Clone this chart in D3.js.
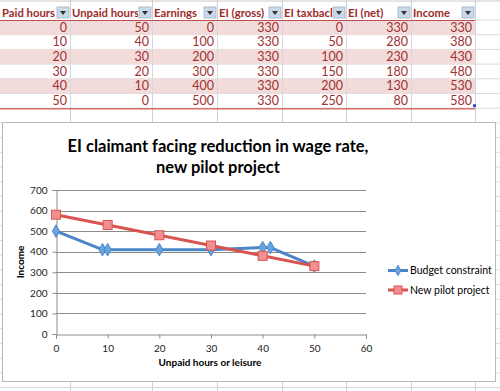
<!DOCTYPE html>
<html><head><meta charset="utf-8">
<script src="https://cdn.jsdelivr.net/npm/d3@7"></script>
<style>
html,body{margin:0;padding:0;background:#fff;}
svg{display:block;}
</style></head>
<body>
<svg id="c" width="500" height="391"></svg>
<script>
// ---- table data ----
const headers = ["Paid hours","Unpaid hours","Earnings","EI (gross)","EI taxback","EI (net)","Income"];
const paidHours = [0,10,20,30,40,50];
const unpaidHours = [50,40,30,20,10,0];
const earnings = [0,100,200,300,400,500];
const eiGross = [330,330,330,330,330,330];
const eiTaxback = [0,50,100,150,200,250];
const eiNet = [330,280,230,180,130,80];
const income = [330,380,430,480,530,580];

// ---- chart data ----
const chartTitle = ["EI claimant facing reduction in wage rate,","new pilot project"];
const budgetX = [0,9,10,20,30,40,41.5,50];
const budgetY = [500,410,410,410,410,420,420,330];
const pilotX = unpaidHours.slice().reverse();
const pilotY = income.slice().reverse();
const seriesNames = ["Budget constraint","New pilot project"];
const xTicks = [0,10,20,30,40,50,60];
const yTicks = [0,100,200,300,400,500,600,700];

const svg = d3.select("#c");
const font = "Lato, 'Open Sans', sans-serif";

// ---- spreadsheet grid ----
const colEdges = [0,70,152,217,282,346,411,475];
const rowTop = 5, headerH = 15, rowH = 14.7;
const grid = svg.append("g");
for (let i=0;i<30;i++){
  const y = rowTop + headerH + i*rowH;
  if (y>391) break;
  grid.append("line").attr("x1",0).attr("x2",500).attr("y1",y).attr("y2",y).attr("stroke","#dadada").attr("stroke-width",1);
}
colEdges.slice(1).forEach(x=>{
  grid.append("line").attr("x1",x+0.5).attr("x2",x+0.5).attr("y1",0).attr("y2",391).attr("stroke","#d0d0d0");
});
grid.append("line").attr("x1",0).attr("x2",500).attr("y1",1).attr("y2",1).attr("stroke","#c8c8c8");

// data rows
const cols = [paidHours,unpaidHours,earnings,eiGross,eiTaxback,eiNet,income];
const tbl = svg.append("g");
d3.range(paidHours.length).forEach(r=>{
  const y = rowTop+headerH+r*rowH;
  if (r%2===0) tbl.append("rect").attr("x",0).attr("y",y).attr("width",475).attr("height",rowH).attr("fill","#f2dcdb");
  cols.forEach((c,ci)=>{
    tbl.append("text").attr("x",colEdges[ci+1]-3).attr("y",y+11.5).attr("text-anchor","end")
      .attr("font-family",font).attr("font-size",12.5).attr("fill","#a03030").text(c[r]);
  });
});
colEdges.slice(1).forEach(x=>{
  tbl.append("line").attr("x1",x+0.5).attr("x2",x+0.5).attr("y1",rowTop).attr("y2",rowTop+headerH+6*rowH).attr("stroke","#d8d8d8");
});
// header
const hdr = svg.append("g");
hdr.append("rect").attr("x",0).attr("y",rowTop-3).attr("width",475).attr("height",headerH+3).attr("fill","#fff");
headers.forEach((h,i)=>{
  const x0 = colEdges[i], x1 = colEdges[i+1];
  const cp = svg.append("clipPath").attr("id","hc"+i);
  cp.append("rect").attr("x",x0).attr("y",0).attr("width",x1-x0-14).attr("height",30);
  hdr.append("text").attr("x",x0+2).attr("y",rowTop+12).attr("clip-path","url(#hc"+i+")")
    .attr("font-family",font).attr("font-weight","bold").attr("font-size",11.3).attr("fill","#9c2b2b").text(h);
  const bx = x1-13, by = rowTop+2;
  hdr.append("rect").attr("x",bx).attr("y",by).attr("width",12).attr("height",11)
    .attr("fill","#c9d9ea").attr("stroke","#9fb3c8").attr("stroke-width",0.8);
  hdr.append("path").attr("d",`M${bx+3},${by+4}L${bx+9},${by+4}L${bx+6},${by+8}Z`).attr("fill","#333");
  hdr.append("line").attr("x1",x1+0.5).attr("x2",x1+0.5).attr("y1",rowTop-3).attr("y2",rowTop+headerH).attr("stroke","#d0d0d0");
});
tbl.append("line").attr("x1",0).attr("x2",475).attr("y1",rowTop+headerH+0.5).attr("y2",rowTop+headerH+0.5).attr("stroke","#c0504d").attr("stroke-width",1);
tbl.append("line").attr("x1",0).attr("x2",475).attr("y1",rowTop+headerH+6*rowH+0.5).attr("y2",rowTop+headerH+6*rowH+0.5).attr("stroke","#d46a6a").attr("stroke-width",1.5);
tbl.append("rect").attr("x",473).attr("y",rowTop+headerH+6*rowH-4).attr("width",3).attr("height",3).attr("fill","#3050c0");

// ---- chart box ----
const chart = svg.append("g");
chart.append("rect").attr("x",2.5).attr("y",122.5).attr("width",493).attr("height",259)
  .attr("fill","#fff").attr("stroke","#b8b8b8").attr("stroke-width",1);

const x = d3.scaleLinear().domain([0,60]).range([56,366]);
const y = d3.scaleLinear().domain([0,700]).range([334,190]);

chart.append("g").selectAll("line").data(yTicks.slice(1)).join("line")
  .attr("x1",x(0)).attr("x2",x(60)).attr("y1",d=>Math.round(y(d))+0.5).attr("y2",d=>Math.round(y(d))+0.5)
  .attr("stroke","#8c8c8c").attr("stroke-width",1);

const yAxis = chart.append("g").attr("transform",`translate(${x(0)+0.5},0)`)
  .call(d3.axisLeft(y).tickValues(yTicks).tickSize(4).tickPadding(5));
const xAxis = chart.append("g").attr("transform",`translate(0,${Math.round(y(0))+0.5})`)
  .call(d3.axisBottom(x).tickValues(xTicks).tickSize(4).tickPadding(6));
[yAxis,xAxis].forEach(a=>{
  a.select(".domain").attr("stroke","#8c8c8c");
  a.selectAll(".tick line").attr("stroke","#8c8c8c");
  a.selectAll(".tick text").attr("font-family",font).attr("font-size",10).attr("fill","#222");
});

chart.append("text").attr("x",218).attr("text-anchor","middle").attr("font-family",font)
  .attr("font-weight","bold").attr("font-size",16.5).attr("fill","#000")
  .selectAll("tspan").data(chartTitle).join("tspan").attr("x",218).attr("y",(d,i)=>152+i*21).text(d=>d);
chart.append("text").attr("x",210).attr("y",366).attr("text-anchor","middle").attr("font-family",font)
  .attr("font-weight","bold").attr("font-size",10).attr("fill","#000").text("Unpaid hours or leisure");
chart.append("text").attr("transform","translate(24,262) rotate(-90)").attr("text-anchor","middle").attr("font-family",font)
  .attr("font-weight","bold").attr("font-size",10).attr("fill","#000").text("Income");

const blue = "#4a86c8", blueFill = "#6aa4e0";
const red = "#d9534f", redFill = "#f09090";
const line = d3.line().x(d=>x(d[0])).y(d=>y(d[1]));
const bData = budgetX.map((v,i)=>[v,budgetY[i]]);
const pData = pilotX.map((v,i)=>[v,pilotY[i]]);
const diamond = d3.symbol().type(d3.symbolDiamond).size(45);

chart.append("path").datum(bData).attr("d",line).attr("fill","none").attr("stroke",blue).attr("stroke-width",3).attr("stroke-linejoin","round");
chart.append("g").selectAll("path").data(bData).join("path").attr("d",diamond)
  .attr("transform",d=>`translate(${x(d[0])},${y(d[1])})`).attr("fill",blueFill).attr("stroke",blue).attr("stroke-width",1);

chart.append("path").datum(pData).attr("d",line).attr("fill","none").attr("stroke",red).attr("stroke-width",3).attr("stroke-linejoin","round");
chart.append("g").selectAll("rect").data(pData).join("rect")
  .attr("x",d=>x(d[0])-4.5).attr("y",d=>y(d[1])-4.5).attr("width",9).attr("height",9)
  .attr("fill",redFill).attr("stroke",red).attr("stroke-width",1);

const leg = chart.append("g");
seriesNames.forEach((n,i)=>{
  const ly = 270.5 + i*19.5;
  const c = i===0?blue:red;
  leg.append("line").attr("x1",388).attr("x2",408).attr("y1",ly).attr("y2",ly).attr("stroke",c).attr("stroke-width",3);
  if (i===0) leg.append("path").attr("d",d3.symbol().type(d3.symbolDiamond).size(30)).attr("transform",`translate(398,${ly})`).attr("fill",blueFill).attr("stroke",blue);
  else leg.append("rect").attr("x",394).attr("y",ly-4).attr("width",8).attr("height",8).attr("fill",redFill).attr("stroke",red);
  leg.append("text").attr("x",410).attr("y",ly+3.8).attr("font-family",font).attr("font-size",10.5).attr("fill","#000").text(n);
});
</script>
</body></html>
